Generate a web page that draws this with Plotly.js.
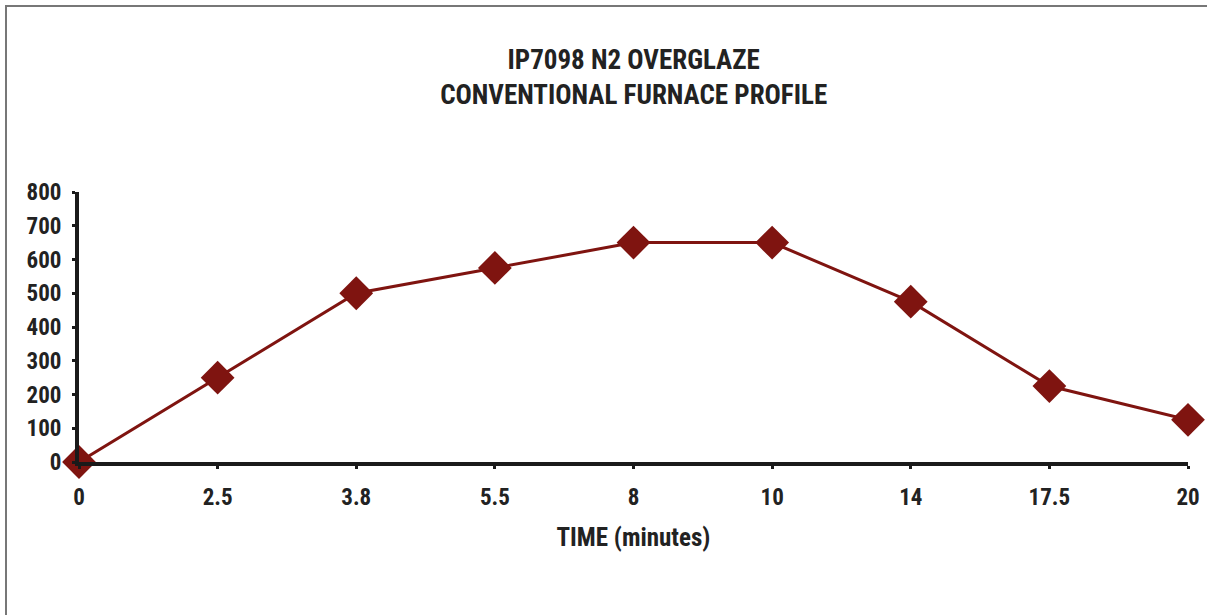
<!DOCTYPE html>
<html>
<head>
<meta charset="utf-8">
<script src="https://cdn.plot.ly/plotly-3.0.1.min.js"></script>
<style>
html,body{margin:0;padding:0;background:#fff;}
#wrap{position:relative;width:1207px;height:615px;overflow:hidden;}
#chart{position:absolute;left:0;top:0;width:1207px;height:615px;}
#frame{position:absolute;left:5px;top:5px;width:1210px;height:620px;border-top:2px solid #777;border-left:2px solid #777;pointer-events:none;}
</style>
</head>
<body>
<div id="wrap"><div id="chart"></div><div id="frame"></div></div>
<script>
var timeLabels = ["0", "2.5", "3.8", "5.5", "8", "10", "14", "17.5", "20"];
var temperature = [0, 250, 500, 575, 650, 650, 475, 225, 125];
var yTicks = [0, 100, 200, 300, 400, 500, 600, 700, 800];
var chartTitle = "IP7098 N2 OVERGLAZE<br>CONVENTIONAL FURNACE PROFILE";
var xTitle = "TIME (minutes)";

var fontFam = "'Liberation Sans Narrow', 'Arial Narrow', 'Roboto Condensed', 'Liberation Sans', sans-serif";

var trace = {
  x: timeLabels,
  y: temperature,
  type: "scatter",
  mode: "lines+markers",
  line: {color: "#7f1410", width: 3},
  marker: {symbol: "diamond", size: 26, color: "#7f1410"},
  cliponaxis: false,
  hoverinfo: "x+y"
};

var layout = {
  width: 1207, height: 615,
  margin: {l: 79, r: 19, t: 192, b: 153},
  paper_bgcolor: "rgba(0,0,0,0)",
  plot_bgcolor: "rgba(0,0,0,0)",
  showlegend: false,
  font: {family: fontFam, color: "#222", size: 18, weight: 700},
  title: {
    text: "<b>" + chartTitle.replace("<br>", "</b><br><b>") + "</b>",
    font: {family: fontFam, size: 27, color: "#222", weight: 700},
    x: 0.525, xanchor: "center",
    y: 0.888, yanchor: "top"
  },
  xaxis: {
    type: "category",
    range: [0, 8],
    showline: true, linecolor: "#1a1a1a", linewidth: 4,
    ticks: "outside", ticklen: 3, tickwidth: 3, tickcolor: "#1a1a1a",
    ticklabelstandoff: 8,
    showgrid: false, zeroline: false,
    tickfont: {family: fontFam, size: 23, color: "#222", weight: 700},
    title: {text: "<b>" + xTitle + "</b>", font: {family: fontFam, size: 25, color: "#222", weight: 700}, standoff: 20}
  },
  yaxis: {
    range: [0, 800],
    tickvals: yTicks,
    ticktext: yTicks.map(String),
    showline: true, linecolor: "#1a1a1a", linewidth: 4,
    ticks: "outside", ticklen: 3, tickwidth: 3, tickcolor: "#1a1a1a",
    ticklabelstandoff: 6,
    showgrid: false, zeroline: false,
    tickfont: {family: fontFam, size: 23, color: "#222", weight: 700}
  }
};

Plotly.newPlot("chart", [trace], layout, {displayModeBar: false, staticPlot: true});
</script>
</body>
</html>
